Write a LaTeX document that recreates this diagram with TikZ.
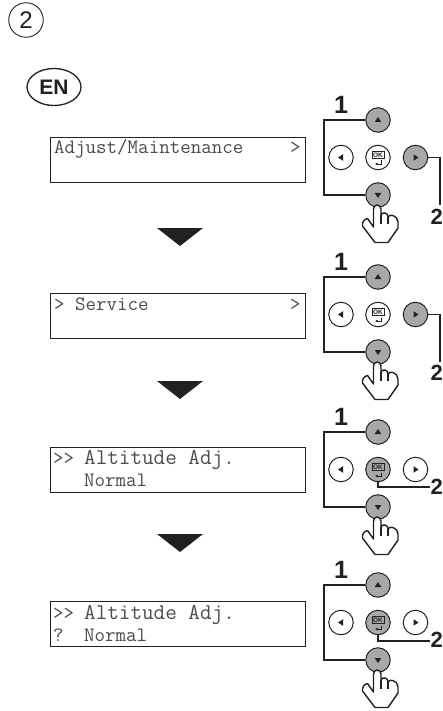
\documentclass[tikz,border=0pt]{standalone}
\usepackage{fontspec}
\usetikzlibrary{arrows.meta,shapes.geometric}
\setmainfont{Liberation Sans}
\definecolor{lcdtxt}{gray}{0.3}
\definecolor{btn}{gray}{0.66}
\definecolor{ink}{gray}{0.13}
\tikzset{
  x=1pt,y=-1pt,
  lcd/.style={draw=ink,line width=1pt,fill=white,minimum width=255pt,minimum height=45pt,inner sep=0pt,anchor=north west},
  lcdtext/.style={anchor=base west,inner sep=0pt,text=lcdtxt,font=\fontsize{20.4}{21}\ttfamily},
  lcdbig/.style={anchor=base west,inner sep=0pt,text=lcdtxt,font=\fontsize{22.5}{23}\ttfamily},
  key/.style={circle,draw=ink,line width=1pt,fill=white,minimum size=24.5pt,inner sep=0pt},
  hot/.style={fill=btn},
  lead/.style={draw=ink,line width=1.8pt,line join=miter},
  num/.style={inner sep=0pt,text=ink,font=\fontsize{25}{25}\bfseries},
  numtwo/.style={inner sep=0pt,anchor=east,text=ink,font=\fontsize{22}{22}\bfseries},
}
\newcommand{\panel}[8]{%
  \begin{scope}[shift={(378,#2)}]
  \node[key,hot] (#1u) at (0,0) {};
  \node[key,#3] (#1l) at (-37,37.5) {};
  \node[key,#4] (#1o) at (0,37.5) {};
  \node[key,#5] (#1r) at (37.5,37.5) {};
  \node[key,hot] (#1d) at (0,75) {};
  \fill[ink] (0,-3) -- (3.3,2) -- (-3.3,2) -- cycle;
  \fill[ink] (0,78) -- (3.3,73) -- (-3.3,73) -- cycle;
  \fill[ink] (-40,37.5) -- (-35,34.2) -- (-35,40.8) -- cycle;
  \fill[ink] (40.5,37.5) -- (35.5,34.2) -- (35.5,40.8) -- cycle;
  \draw[ink,line width=0.5pt] (-6,31.5) rectangle (6,38);
  \node[inner sep=0pt,text=ink,font=\fontsize{6.5}{6.5}\bfseries] at (0,34.8) {OK};
  \draw[ink,line width=0.6pt,-{Latex[length=2.5pt,width=2.5pt]}] (3,40.5) -- (3,44) -- (-3,44);
  \draw[ink,line width=1.4pt,fill=white,line join=round]
    (-4.5,107) -- (-4.5,89) to[out=90,in=180] (-1,85) to[out=0,in=90] (3,89)
    -- (3,95) to[out=70,in=170] (7,93) to[out=-10,in=90] (10,97)
    to[out=70,in=170] (15,95.5) to[out=-10,in=100] (20,102) -- (20,108)
    -- (10,122.5) -- (-3,122.5) -- (-15.5,106) to[out=100,in=190] (-10.5,98.5) -- cycle;
  \draw[ink,line width=1.4pt] (3,95) -- (3,104) (10,97) -- (10,104);
  \end{scope}
  \node[num] (#1n1) at (341,#2-15) {1};
  \coordinate (#1a) at (324,#2);
  \coordinate (#1b) at (324,#2+75);
  \draw[lead] (#1u.west) -- (#1a) -- (#1b) -- (#1d.west);
  \node[numtwo] (#1n2) at (#6,#7) {2};
  #8
}
\begin{document}
\begin{tikzpicture}
\useasboundingbox (0,0) rectangle (443,711);
\fill[white] (0,0) rectangle (443,711);
\node[circle,draw=ink,line width=0.9pt,minimum size=34.5pt,inner sep=0pt,text=ink,font=\fontsize{24}{24}\selectfont] (step2) at (26,20) {2};
\node[ellipse,draw=ink,line width=1.3pt,minimum width=54pt,minimum height=37pt,inner sep=0pt,text=ink,font=\fontsize{21}{21}\bfseries] (lang) at (54,87) {EN};
\node[lcd] (d1) at (50,137) {};
\node[lcdtext] (t1) at (54,154) {Adjust/Maintenance};
\node[lcdtext] (t1b) at (290,154) {>};
\node[lcd] (d2) at (50,293) {};
\node[lcdtext] (t2) at (54,310) {> Service};
\node[lcdtext] (t2b) at (290,310) {>};
\node[lcd] (d3) at (50,447) {};
\node[lcdtext] (t3a) at (53,464) {>>};
\node[lcdbig] (t3b) at (84,464) {Altitude Adj.};
\node[lcdtext] (t3c) at (84,486) {Normal};
\node[lcd] (d4) at (50,601) {};
\node[lcdtext] (t4a) at (53,619) {>>};
\node[lcdbig] (t4b) at (84,619) {Altitude Adj.};
\node[lcdtext] (t4c) at (53,641) {?};
\node[lcdtext] (t4d) at (84,641) {Normal};
\fill[ink] (157,228) -- (203,228) -- (180,246) -- cycle;
\fill[ink] (157,381) -- (203,381) -- (180,399) -- cycle;
\fill[ink] (157,534) -- (203,534) -- (180,552) -- cycle;
\panel{a}{120}{}{}{hot}{443}{217}{\draw[lead] (ar.east) -- (440,157.5) -- (440,205);}
\panel{b}{277}{}{}{hot}{443}{373}{\draw[lead] (br.east) -- (440,314.5) -- (440,362);}
\panel{c}{432}{}{hot}{}{443}{487}{\draw[lead] (co.south) -- (378,487) -- (430,487);}
\panel{e}{585}{}{hot}{}{443}{640}{\draw[lead] (eo.south) -- (378,641) -- (430,641);}
\end{tikzpicture}
\end{document}
